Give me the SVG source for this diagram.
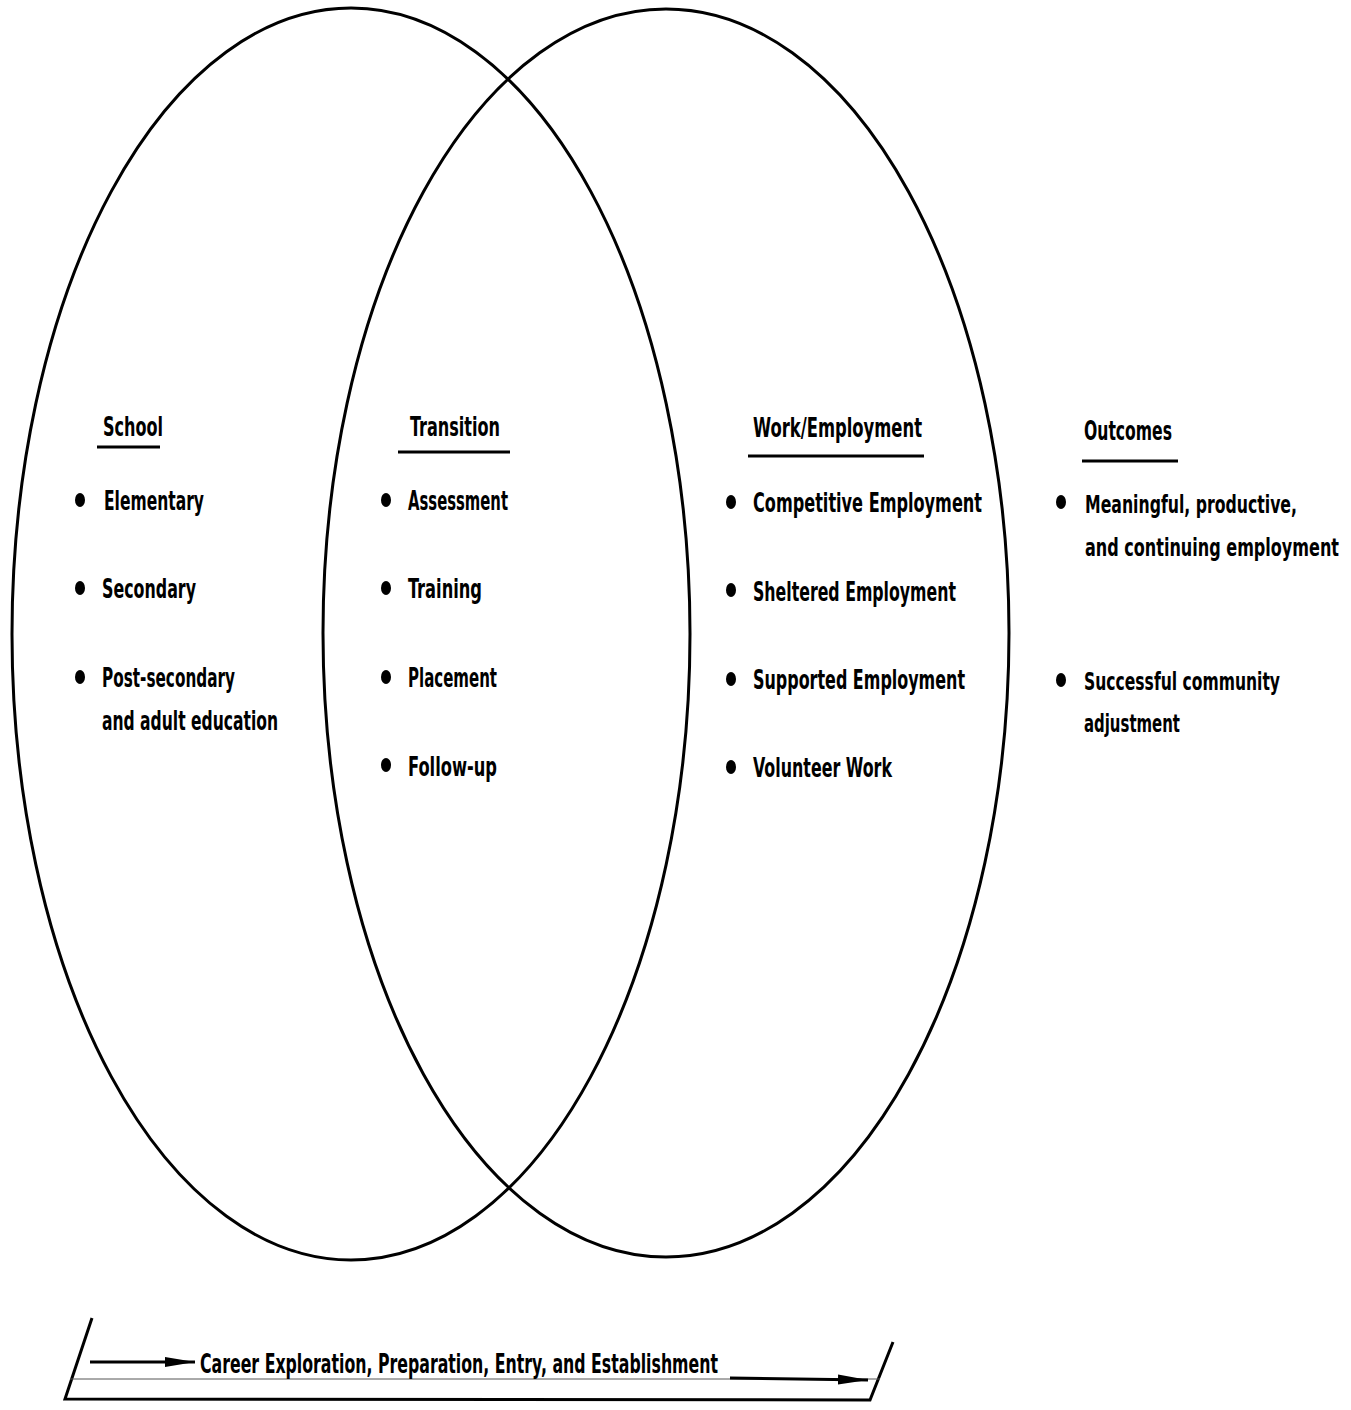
<svg xmlns="http://www.w3.org/2000/svg" width="1351" height="1410" viewBox="0 0 1351 1410">
<defs>
<style>
.t{font-family:"Liberation Sans Narrow","DejaVu Sans Condensed","Liberation Sans",sans-serif;font-weight:bold;font-size:26px;fill:#000}
.o{font-family:"Liberation Sans Narrow","DejaVu Sans Condensed","Liberation Sans",sans-serif;font-weight:bold;font-size:24px;fill:#000}
.h{font-family:"Liberation Sans Narrow","DejaVu Sans Condensed","Liberation Sans",sans-serif;font-weight:bold;font-size:26px;fill:#000}
.ell{fill:none;stroke:#000;stroke-width:3}
.ul{stroke:#000;stroke-width:3}
.ln{stroke:#000;stroke-width:3;fill:none}
.dot{fill:#000}
</style>
<marker id="ah" viewBox="0 0 30 12" refX="30" refY="6" markerWidth="30" markerHeight="12" markerUnits="userSpaceOnUse" orient="auto">
<path d="M0,1 L30,6 L0,11 z" fill="#000"/>
</marker>
</defs>
<rect width="1351" height="1410" fill="#fff"/>
<g id="ellipses">
<ellipse id="school-ellipse" class="ell" cx="351" cy="634" rx="339" ry="626"/>
<ellipse id="work-ellipse" class="ell" cx="666" cy="633" rx="343" ry="624"/>
</g>
<g id="school">
<text class="h" x="103" y="436" textLength="60" lengthAdjust="spacingAndGlyphs">School</text>
<line class="ul" x1="97" y1="447" x2="160" y2="447"/>
<ellipse class="dot" cx="80" cy="500" rx="5" ry="7"/>
<text class="t" x="104" y="510" textLength="100" lengthAdjust="spacingAndGlyphs">Elementary</text>
<ellipse class="dot" cx="80" cy="588" rx="5" ry="7"/>
<text class="t" x="102" y="598" textLength="94" lengthAdjust="spacingAndGlyphs">Secondary</text>
<ellipse class="dot" cx="80" cy="677" rx="5" ry="7"/>
<text class="t" x="102" y="687" textLength="133" lengthAdjust="spacingAndGlyphs">Post-secondary</text>
<text class="t" x="102" y="730" textLength="176" lengthAdjust="spacingAndGlyphs">and adult education</text>
</g>
<g id="transition">
<text class="h" x="410" y="436" textLength="90" lengthAdjust="spacingAndGlyphs">Transition</text>
<line class="ul" x1="398" y1="452" x2="510" y2="452"/>
<ellipse class="dot" cx="386" cy="500" rx="5" ry="7"/>
<text class="t" x="408" y="510" textLength="100" lengthAdjust="spacingAndGlyphs">Assessment</text>
<ellipse class="dot" cx="386" cy="588" rx="5" ry="7"/>
<text class="t" x="408" y="598" textLength="74" lengthAdjust="spacingAndGlyphs">Training</text>
<ellipse class="dot" cx="386" cy="677" rx="5" ry="7"/>
<text class="t" x="408" y="687" textLength="89" lengthAdjust="spacingAndGlyphs">Placement</text>
<ellipse class="dot" cx="386" cy="765" rx="5" ry="7"/>
<text class="t" x="408" y="776" textLength="89" lengthAdjust="spacingAndGlyphs">Follow-up</text>
</g>
<g id="work">
<text class="h" x="753" y="437" textLength="169" lengthAdjust="spacingAndGlyphs">Work/Employment</text>
<line class="ul" x1="748" y1="456" x2="924" y2="456"/>
<ellipse class="dot" cx="731" cy="502" rx="5" ry="7"/>
<text class="t" x="753" y="512" textLength="229" lengthAdjust="spacingAndGlyphs">Competitive Employment</text>
<ellipse class="dot" cx="731" cy="590" rx="5" ry="7"/>
<text class="t" x="753" y="601" textLength="203" lengthAdjust="spacingAndGlyphs">Sheltered Employment</text>
<ellipse class="dot" cx="731" cy="679" rx="5" ry="7"/>
<text class="t" x="753" y="689" textLength="212" lengthAdjust="spacingAndGlyphs">Supported Employment</text>
<ellipse class="dot" cx="731" cy="767" rx="5" ry="7"/>
<text class="t" x="753" y="777" textLength="139" lengthAdjust="spacingAndGlyphs">Volunteer Work</text>
</g>
<g id="outcomes">
<text class="h" x="1084" y="440" textLength="88" lengthAdjust="spacingAndGlyphs">Outcomes</text>
<line class="ul" x1="1082" y1="461" x2="1178" y2="461"/>
<ellipse class="dot" cx="1061" cy="502" rx="5" ry="7"/>
<text class="o" x="1085" y="513" textLength="212" lengthAdjust="spacingAndGlyphs">Meaningful, productive,</text>
<text class="o" x="1085" y="556" textLength="254" lengthAdjust="spacingAndGlyphs">and continuing employment</text>
<ellipse class="dot" cx="1061" cy="680" rx="5" ry="7"/>
<text class="o" x="1084" y="690" textLength="196" lengthAdjust="spacingAndGlyphs">Successful community</text>
<text class="o" x="1084" y="732" textLength="96" lengthAdjust="spacingAndGlyphs">adjustment</text>
</g>
<g id="career-band">
<path class="ln" d="M92,1318 L65,1399 L870,1400 L893,1342"/>
<line x1="70" y1="1379" x2="880" y2="1379" stroke="#555" stroke-width="1"/>
<text class="t" x="200" y="1373" textLength="518" lengthAdjust="spacingAndGlyphs">Career Exploration, Preparation, Entry, and Establishment</text>
</g>
<g id="connectors">
<line class="ln" x1="90" y1="1362" x2="195" y2="1362" marker-end="url(#ah)"/>
<line class="ln" x1="730" y1="1378" x2="868" y2="1380" marker-end="url(#ah)"/>
</g>
</svg>
